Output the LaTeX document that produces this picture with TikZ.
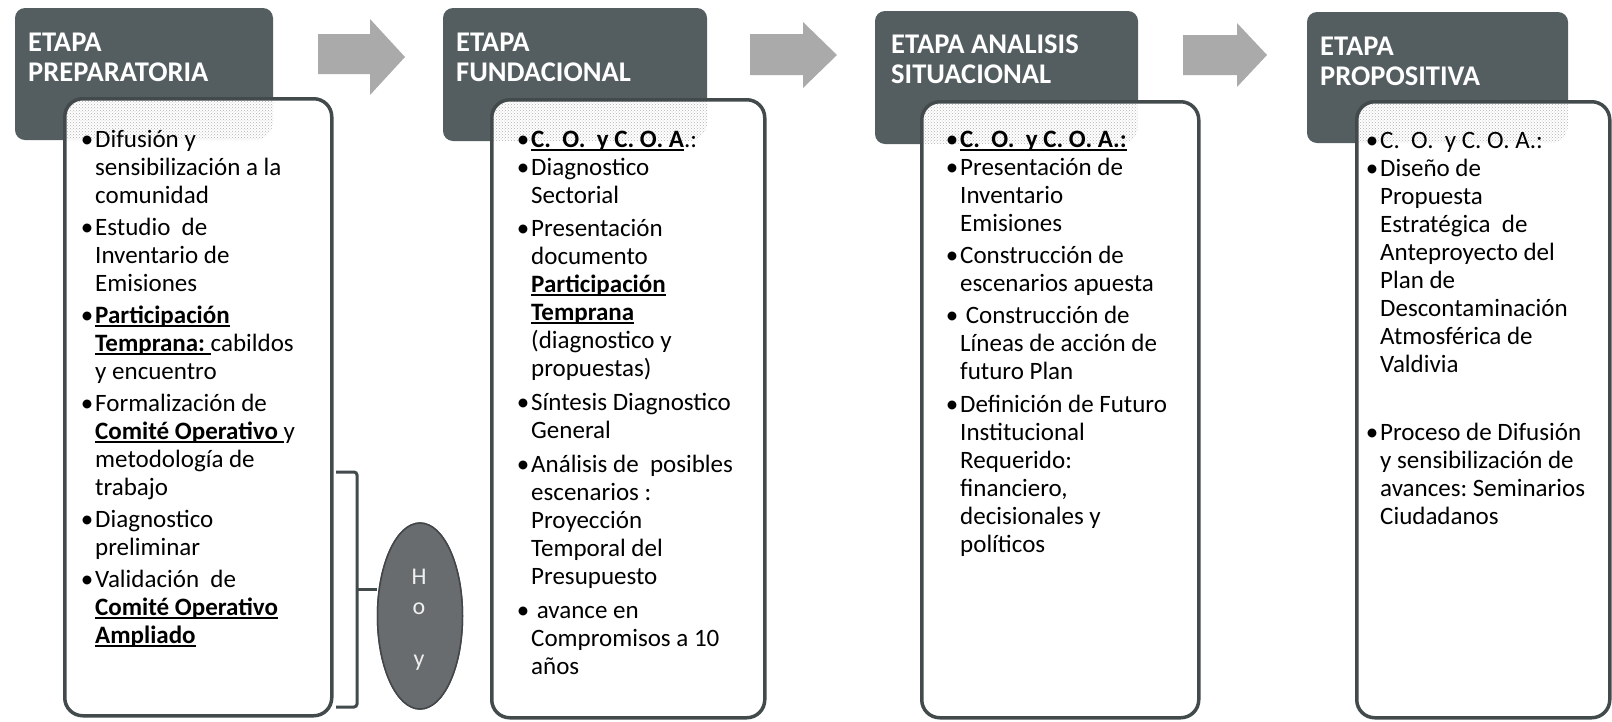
\documentclass[tikz,border=0pt]{standalone}
\usepackage{fontspec}
\setmainfont{Carlito}
\usetikzlibrary{shapes.geometric,patterns}
\definecolor{headcol}{RGB}{84,94,97}
\definecolor{bordercol}{RGB}{66,74,76}
\definecolor{arrowcol}{RGB}{170,170,170}
\definecolor{hoycol}{RGB}{104,108,110}
\definecolor{hoyborder}{RGB}{66,70,72}
\definecolor{hoytext}{RGB}{240,240,240}
\newcommand{\myul}[1]{\leavevmode\setbox0\hbox{#1}\rlap{\rule[-4pt]{\wd0}{1.6pt}}\box0}
\newcommand{\bul}{\leavevmode\llap{•\kern2pt}}
\tikzset{
  headbox/.style={fill=headcol, rounded corners=10pt, inner sep=0pt, outer sep=0pt, anchor=north west},
  bodybox/.style={draw=bordercol, line width=3.5pt, fill=white, rounded corners=18pt, inner sep=0pt, anchor=north west},
  headtext/.style={anchor=base west, inner sep=0pt, text=white, font=\fontsize{28.5}{30}\selectfont\bfseries},
  bodytext/.style={anchor=base west, inner sep=0pt, font=\fontsize{25}{28}\selectfont},
  flowarrow/.style={fill=arrowcol},
  bracketline/.style={draw=bordercol, line width=3pt, rounded corners=3pt},
  hoyshape/.style={ellipse, fill=hoycol, draw=hoyborder, line width=1.5pt, minimum width=85pt, minimum height=186pt, inner sep=0pt},
  dotsfill/.style={pattern=crosshatch dots, pattern color=gray!60}
}
\begin{document}
\begin{tikzpicture}[x=1pt,y=-1pt]
\useasboundingbox (0,0) rectangle (1612,721);

% header boxes
\node[headbox, minimum width=258pt, minimum height=132pt] (hd1) at (15,8) {};
\node[headbox, minimum width=264pt, minimum height=133pt] (hd2) at (443,8) {};
\node[headbox, minimum width=263pt, minimum height=133pt] (hd3) at (875,11) {};
\node[headbox, minimum width=261pt, minimum height=131pt] (hd4) at (1307,12) {};

% header texts
\node[headtext] (ht1) at (28,51) {\begin{minipage}[t]{240pt}ETAPA\\PREPARATORIA\end{minipage}};
\node[headtext] (ht2) at (456,51) {\begin{minipage}[t]{240pt}ETAPA\\FUNDACIONAL\end{minipage}};
\node[headtext] (ht3) at (891,53) {\begin{minipage}[t]{240pt}ETAPA ANALISIS\\SITUACIONAL\end{minipage}};
\node[headtext] (ht4) at (1320,55) {\begin{minipage}[t]{240pt}ETAPA\\PROPOSITIVA\end{minipage}};

% body boxes
\node[bodybox, minimum width=267pt, minimum height=617pt,
  path picture={\fill[dotsfill] (hd1.north west) rectangle (hd1.south east);}] (bd1) at (63,97) {};
\node[bodybox, minimum width=273pt, minimum height=618pt,
  path picture={\fill[dotsfill] (hd2.north west) rectangle (hd2.south east);}] (bd2) at (490,98) {};
\node[bodybox, minimum width=277pt, minimum height=616pt,
  path picture={\fill[dotsfill] (hd3.north west) rectangle (hd3.south east);}] (bd3) at (920,100) {};
\node[bodybox, minimum width=253pt, minimum height=616pt,
  path picture={\fill[dotsfill] (hd4.north west) rectangle (hd4.south east);}] (bd4) at (1355,100) {};

% body texts
\node[bodytext] (bt1) at (95,147) {\begin{minipage}[t]{300pt}\raggedright\frenchspacing
\bul Difusión y\\
sensibilización a la\\
comunidad\\[4pt]
\bul Estudio\ \ de\\
Inventario de\\
Emisiones\\[4pt]
\bul\myul{\textbf{Participación}}\\
\myul{\textbf{Temprana:}\ }cabildos\\
y encuentro\\[4pt]
\bul Formalización de\\
\myul{\textbf{Comité Operativo}\ }y\\
metodología de\\
trabajo\\[4pt]
\bul Diagnostico\\
preliminar\\[4pt]
\bul Validación\ \ de\\
\myul{\textbf{Comité Operativo}}\\
\myul{\textbf{Ampliado}}
\end{minipage}};

\node[bodytext] (bt2) at (531,147) {\begin{minipage}[t]{300pt}\raggedright\frenchspacing
\bul\myul{\textbf{C.\ \ O.\ \ y C. O. A}}.:\\
\bul Diagnostico\\
Sectorial\\[5pt]
\bul Presentación\\
documento\\
\myul{\textbf{Participación}}\\
\myul{\textbf{Temprana}}\\
(diagnostico y\\
propuestas)\\[6pt]
\bul Síntesis Diagnostico\\
General\\[6pt]
\bul Análisis de\ \ posibles\\
escenarios :\\
Proyección\\
Temporal del\\
Presupuesto\\[6pt]
\bul\ avance en\\
Compromisos a 10\\
años
\end{minipage}};

\node[bodytext] (bt3) at (960,147) {\begin{minipage}[t]{300pt}\raggedright\frenchspacing
\bul\myul{\textbf{C.\ \ O.\ \ y C. O. A.:}}\\
\bul Presentación de\\
Inventario\\
Emisiones\\[4pt]
\bul Construcción de\\
escenarios apuesta\\[4pt]
\bul\ Construcción de\\
Líneas de acción de\\
futuro Plan\\[5pt]
\bul Definición de Futuro\\
Institucional\\
Requerido:\\
financiero,\\
decisionales y\\
políticos
\end{minipage}};

\node[bodytext] (bt4) at (1380,148) {\begin{minipage}[t]{300pt}\raggedright\frenchspacing
\bul C.\ \ O.\ \ y C. O. A.:\\
\bul Diseño de\\
Propuesta\\
Estratégica\ \ de\\
Anteproyecto del\\
Plan de\\
Descontaminación\\
Atmosférica de\\
Valdivia\\[40pt]
\bul Proceso de Difusión\\
y sensibilización de\\
avances: Seminarios\\
Ciudadanos
\end{minipage}};

% flow arrows between stages
\fill[flowarrow] (318,34) -- (370,34) -- (370,19) -- (405,57) -- (370,95) -- (370,74) -- (318,74) -- cycle;
\fill[flowarrow] (750,34) -- (803,34) -- (803,22) -- (837,55) -- (803,88) -- (803,75) -- (750,75) -- cycle;
\fill[flowarrow] (1183,35) -- (1237,35) -- (1237,23) -- (1267,55) -- (1237,87) -- (1237,75) -- (1183,75) -- cycle;

% bracket and Hoy marker
\coordinate (brtop) at (336,472);
\coordinate (brbot) at (336,707);
\coordinate (brmid) at (357,589);
\draw[bracketline] (brtop) -- (357,472) -- (357,707) -- (brbot);
\node[hoyshape] (hoy) at (420,616) {};
\draw[bordercol, line width=3pt] (brmid) -- (brmid -| hoy.west);
\node[hoyshape] at (hoy) {};
\node[anchor=base, inner sep=0pt, text=hoytext, font=\fontsize{24}{30}\selectfont] (hoyt) at (419,584)
  {\begin{minipage}[t]{30pt}\centering H\\o\\[22pt]y\end{minipage}};
\end{tikzpicture}
\end{document}
